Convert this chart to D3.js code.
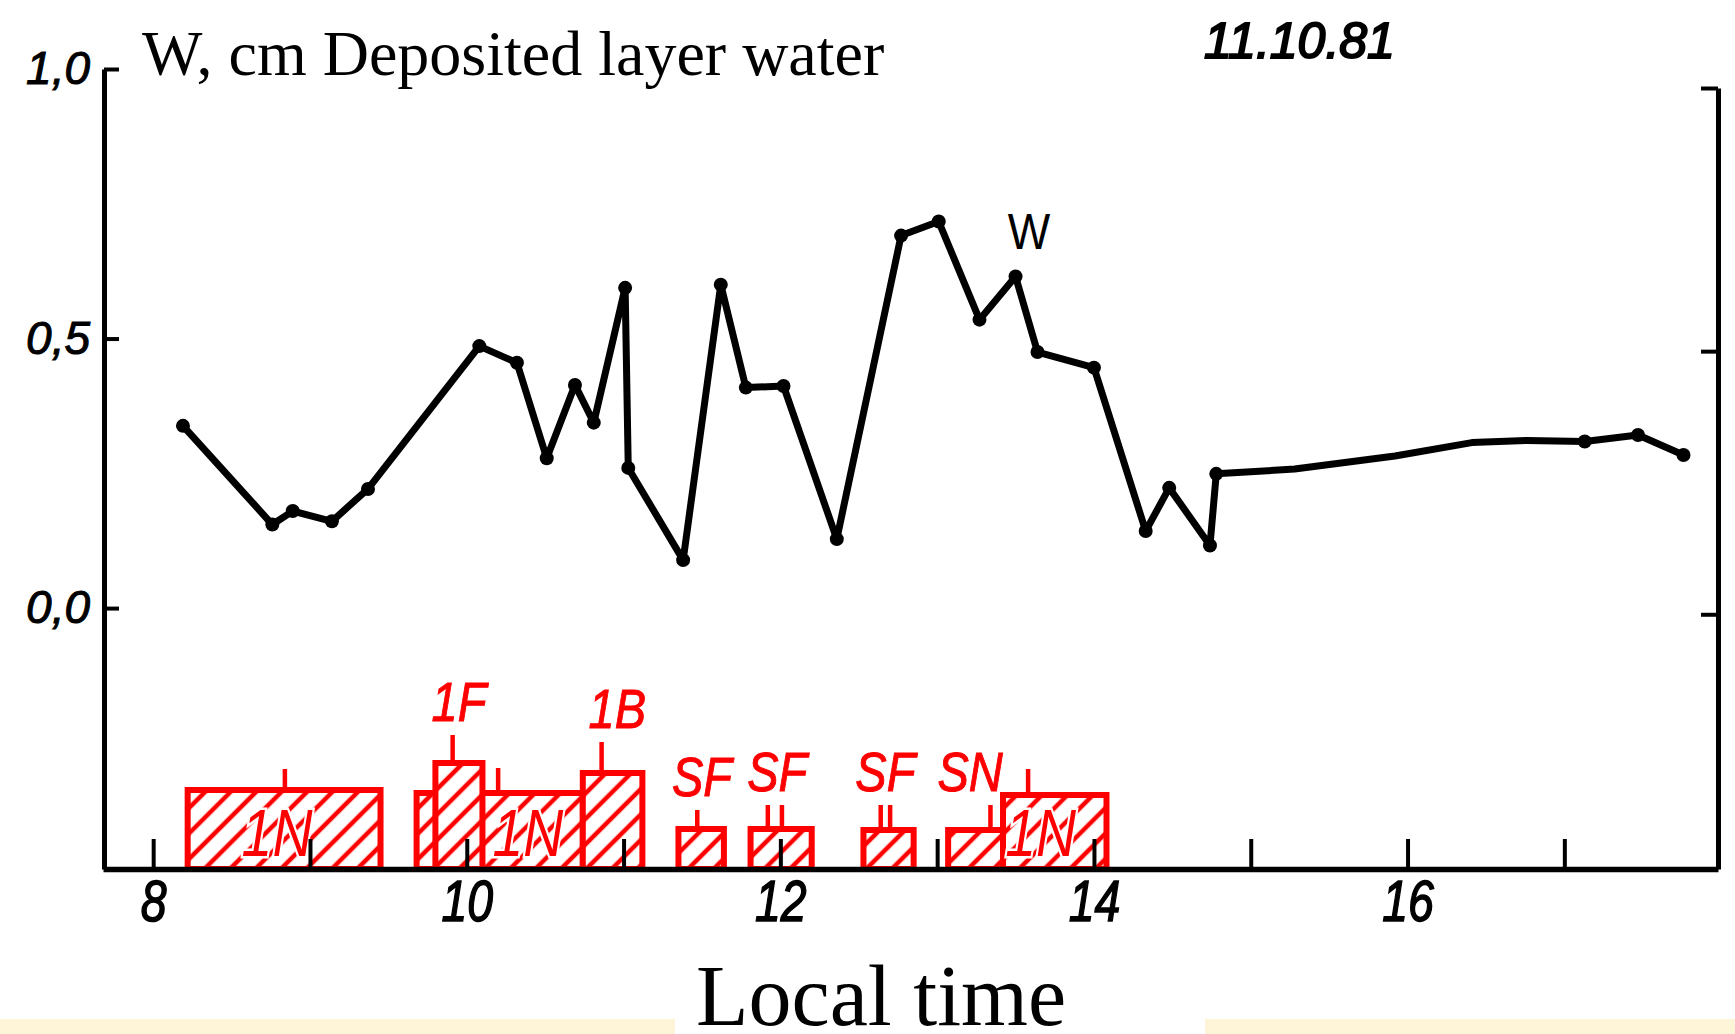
<!DOCTYPE html>
<html>
<head>
<meta charset="utf-8">
<script src="https://cdn.jsdelivr.net/npm/d3@7"></script>
<style>
  html, body { margin: 0; padding: 0; background: #ffffff; }
  svg { display: block; }
</style>
</head>
<body>
<svg id="chart" width="1735" height="1034"></svg>
<script>
// Deposited layer water W (cm) against local time (h), 11.10.81
const hours = [8.19, 8.76, 8.89, 9.14, 9.37, 10.08, 10.32, 10.51, 10.69, 10.81,
               11.01, 11.03, 11.38, 11.62, 11.78, 12.02, 12.36, 12.77, 13.01, 13.27,
               13.50, 13.64, 14.00, 14.33, 14.48, 14.74, 14.78, 15.28, 15.92, 16.41,
               16.76, 17.13, 17.47, 17.76];
const water = [0.338, 0.155, 0.180, 0.161, 0.221, 0.486, 0.455, 0.278, 0.414, 0.344,
               0.594, 0.260, 0.089, 0.600, 0.409, 0.412, 0.128, 0.691, 0.717, 0.535,
               0.615, 0.475, 0.446, 0.143, 0.223, 0.116, 0.249, 0.258, 0.282, 0.307,
               0.311, 0.309, 0.321, 0.284];
// 1 = measured point drawn with a dot
const measured = [1, 1, 1, 1, 1, 1, 1, 1, 1, 1,
                  1, 1, 1, 1, 1, 1, 1, 1, 1, 1,
                  1, 1, 1, 1, 1, 1, 1, 0, 0, 0,
                  0, 1, 1, 1];

// Solar flares: class, start / end (h), bar height and peak marks
const flareClass  = ["1N", "1N", "1F", "1B", "SF", "SF", "SF", "SN", "1N"];
const flareStart  = [8.22, 9.68, 9.80, 10.74, 11.35, 11.81, 12.53, 13.07, 13.42];
const flareEnd    = [9.45, 10.74, 10.10, 11.12, 11.64, 12.20, 12.85, 13.42, 14.08];
const flareHeight = [0.79, 0.76, 1.06, 0.96, 0.40, 0.40, 0.39, 0.39, 0.74];
const flarePeaks  = [[8.84], [10.20], [9.91], [10.86], [11.47], [11.92, 12.01], [12.64, 12.70], [13.34], [13.58]];
const peakHeight  = [1.00, 1.01, 1.34, 1.27, 0.59, 0.64, 0.64, 0.64, 1.00];
const flareLabelAt = [8.79, 10.39, 9.95, 10.96, 11.50, 11.98, 12.67, 13.21, 13.66];

const yTicks = [0, 0.5, 1.0];
const xTicks = [8, 9, 10, 11, 12, 13, 14, 15, 16, 17];
const xLabels = [8, 10, 12, 14, 16];

const titleText = "W, cm Deposited layer water";
const dateText = "11.10.81";
const seriesText = "W";
const xTitle = "Local time";

const RED = "#ff0000";
const svg = d3.select("#chart");

// scales
const x = d3.scaleLinear().domain([7.68, 17.98]).range([103, 1718]);
const y = d3.scaleLinear().domain([-0.484, 1.0]).range([869, 69]);
const yRight = d3.scaleLinear().domain([-0.484, 1.0]).range([869, 88]);
const yFlare = d3.scaleLinear().domain([0, 1]).range([869, 769]);

// cream strip at the foot of the page
const strip = svg.append("g");
strip.append("rect").attr("x", 0).attr("y", 1019).attr("width", 675).attr("height", 15).attr("fill", "#fef5d8");
strip.append("rect").attr("x", 1205).attr("y", 1019).attr("width", 530).attr("height", 15).attr("fill", "#fef5d8");

// hatch pattern for flare bars
const defs = svg.append("defs");
const hatch = defs.append("pattern")
  .attr("id", "hatch")
  .attr("patternUnits", "userSpaceOnUse")
  .attr("width", 18).attr("height", 18)
  .attr("patternTransform", "rotate(45)");
hatch.append("rect").attr("width", 18).attr("height", 18).attr("fill", "#ffffff");
hatch.append("line")
  .attr("x1", 3).attr("y1", 0).attr("x2", 3).attr("y2", 18)
  .attr("stroke", RED).attr("stroke-width", 4.5);

// flare bars
const flares = d3.range(flareClass.length).map(i => ({
  cls: flareClass[i], start: flareStart[i], end: flareEnd[i],
  h: flareHeight[i], peaks: flarePeaks[i], ph: peakHeight[i], at: flareLabelAt[i]
}));

const fg = svg.append("g");
flares.forEach(f => {
  const g = fg.append("g");
  g.selectAll("line.peak").data(f.peaks).join("line")
    .attr("class", "peak")
    .attr("x1", d => x(d)).attr("x2", d => x(d))
    .attr("y1", yFlare(f.h)).attr("y2", yFlare(f.ph))
    .attr("stroke", RED).attr("stroke-width", 4.5);
  g.append("rect")
    .attr("x", x(f.start)).attr("y", yFlare(f.h))
    .attr("width", x(f.end) - x(f.start))
    .attr("height", yFlare(0) - yFlare(f.h))
    .attr("fill", "url(#hatch)")
    .attr("stroke", RED).attr("stroke-width", 6);
});

// class labels: inside the long 1N bars, above the others
flares.forEach(f => {
  const inside = f.cls === "1N";
  const ty = inside ? yFlare(0) - 13 : yFlare(f.ph) - 14;
  const fs = inside ? 66 : 56;
  fg.append("g")
    .attr("transform", `translate(${x(f.at)},${ty}) scale(0.84,1)`)
    .append("text")
    .attr("text-anchor", "middle")
    .attr("font-family", "'Liberation Sans', Arial, sans-serif")
    .attr("font-style", "italic")
    .attr("font-size", fs)
    .attr("fill", RED)
    .attr("stroke", inside ? "#ffffff" : RED)
    .attr("stroke-width", inside ? 5 : 1)
    .attr("paint-order", "stroke")
    .text(f.cls);
});

// axes
const axisFont = "'Liberation Sans', Arial, sans-serif";

const gLeft = svg.append("g").attr("transform", `translate(${x.range()[0] + 1},0)`)
  .call(d3.axisLeft(y).tickValues(yTicks).tickSize(-15).tickSizeOuter(0).tickPadding(14)
    .tickFormat(d => d.toFixed(1).replace(".", ",")));
gLeft.select(".domain").attr("stroke", "#000").attr("stroke-width", 5);
gLeft.selectAll(".tick line").attr("stroke", "#000").attr("stroke-width", 4);
gLeft.selectAll(".tick text")
  .attr("font-family", axisFont).attr("font-style", "italic").attr("font-size", 46)
  .attr("fill", "#000").attr("stroke", "#000").attr("stroke-width", 1);

const gRight = svg.append("g").attr("transform", `translate(${x.range()[1]},0)`)
  .call(d3.axisRight(yRight).tickValues(yTicks).tickSize(-17).tickSizeOuter(0).tickFormat(""));
gRight.select(".domain").attr("stroke", "#000").attr("stroke-width", 5);
gRight.selectAll(".tick line").attr("stroke", "#000").attr("stroke-width", 4);

const gBottom = svg.append("g").attr("transform", `translate(0,${y.range()[0]})`)
  .call(d3.axisBottom(x).tickValues(xTicks).tickSize(-30).tickSizeOuter(0).tickPadding(11)
    .tickFormat(d => xLabels.includes(d) ? String(d) : ""));
gBottom.select(".domain").attr("stroke", "#000").attr("stroke-width", 5.5);
gBottom.selectAll(".tick line").attr("stroke", "#000").attr("stroke-width", 4);
gBottom.selectAll(".tick text")
  .attr("font-family", axisFont).attr("font-style", "italic").attr("font-size", 58)
  .attr("fill", "#000").attr("stroke", "#000").attr("stroke-width", 1.5)
  .attr("transform", "scale(0.8,1)");

// W curve
const pts = hours.map((h, i) => ({ h, w: water[i], m: measured[i] }));
svg.append("path")
  .datum(pts)
  .attr("fill", "none")
  .attr("stroke", "#000")
  .attr("stroke-width", 7)
  .attr("stroke-linejoin", "round")
  .attr("stroke-linecap", "round")
  .attr("d", d3.line().x(d => x(d.h)).y(d => y(d.w)));
svg.append("g").selectAll("circle")
  .data(pts.filter(d => d.m))
  .join("circle")
  .attr("cx", d => x(d.h)).attr("cy", d => y(d.w))
  .attr("r", 7).attr("fill", "#000");

// texts
svg.append("text")
  .attr("x", 142).attr("y", 75)
  .attr("font-family", "'Liberation Serif', 'Times New Roman', serif")
  .attr("font-size", 64).attr("fill", "#000")
  .text(titleText);

svg.append("text")
  .attr("x", 1204).attr("y", 58)
  .attr("font-family", axisFont).attr("font-style", "italic")
  .attr("font-size", 50).attr("fill", "#000")
  .attr("stroke", "#000").attr("stroke-width", 2)
  .text(dateText);

svg.append("text")
  .attr("x", 1029).attr("y", 249)
  .attr("text-anchor", "middle")
  .attr("font-family", axisFont).attr("font-size", 50).attr("fill", "#000")
  .attr("transform", "translate(1029,0) scale(0.9,1) translate(-1029,0)")
  .text(seriesText);

svg.append("text")
  .attr("x", 696).attr("y", 1025)
  .attr("font-family", "'Liberation Serif', 'Times New Roman', serif")
  .attr("font-size", 86).attr("fill", "#000")
  .text(xTitle);
</script>
</body>
</html>
